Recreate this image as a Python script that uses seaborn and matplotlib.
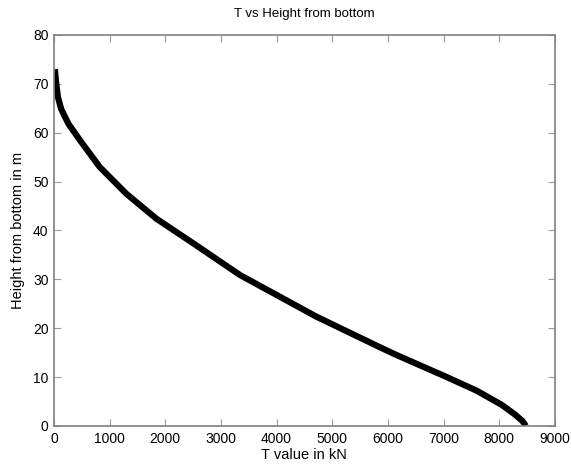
import matplotlib
matplotlib.use("Agg")
import matplotlib.pyplot as plt
import seaborn as sns
import pandas as pd

t_values = [15, 35, 70, 130, 260, 470, 820, 1300, 1840, 2550, 3340, 4710, 5840, 6140, 7040, 7600, 8050, 8290, 8420, 8480]
heights = [73.0, 70.5, 67.3, 64.8, 61.8, 58.4, 53.0, 47.5, 42.4, 37.0, 30.9, 22.4, 16.2, 14.6, 10.1, 7.2, 4.3, 2.3, 1.0, 0.0]
x_ticks = [0, 1000, 2000, 3000, 4000, 5000, 6000, 7000, 8000, 9000]
y_ticks = [0, 10, 20, 30, 40, 50, 60, 70, 80]

sns.set_style("white")
plt.rcParams['font.family'] = ['Liberation Sans', 'DejaVu Sans']
plt.rcParams['text.color'] = 'black'
plt.rcParams['axes.labelcolor'] = 'black'

df = pd.DataFrame({"T": t_values, "H": heights})

fig = plt.figure(figsize=(5.71, 4.65), dpi=100)
ax = fig.add_axes([0.0946, 0.0839, 0.877, 0.841])
sns.lineplot(data=df, x="T", y="H", sort=False, color="black", linewidth=4.5,
             solid_joinstyle="round", solid_capstyle="butt", ax=ax)

ax.set_xlim(0, 9000)
ax.set_ylim(0, 80)
ax.set_xticks(x_ticks)
ax.set_yticks(y_ticks)
ax.tick_params(direction="in", length=5, width=0.8, color="#999999",
               top=True, right=True, bottom=True, left=True, labelsize=10,
               labelcolor="black", pad=4)
for s in ax.spines.values():
    s.set_color("#808080")
    s.set_linewidth(1.2)

ax.set_xlabel("T value in kN", fontsize=10.5, labelpad=2, color="black")
ax.set_ylabel("Height from bottom in m", fontsize=10.5, labelpad=6, color="black")
ax.set_title("T vs Height from bottom", fontsize=9.5, pad=13, color="black")

fig.savefig("out.png", dpi=100)
